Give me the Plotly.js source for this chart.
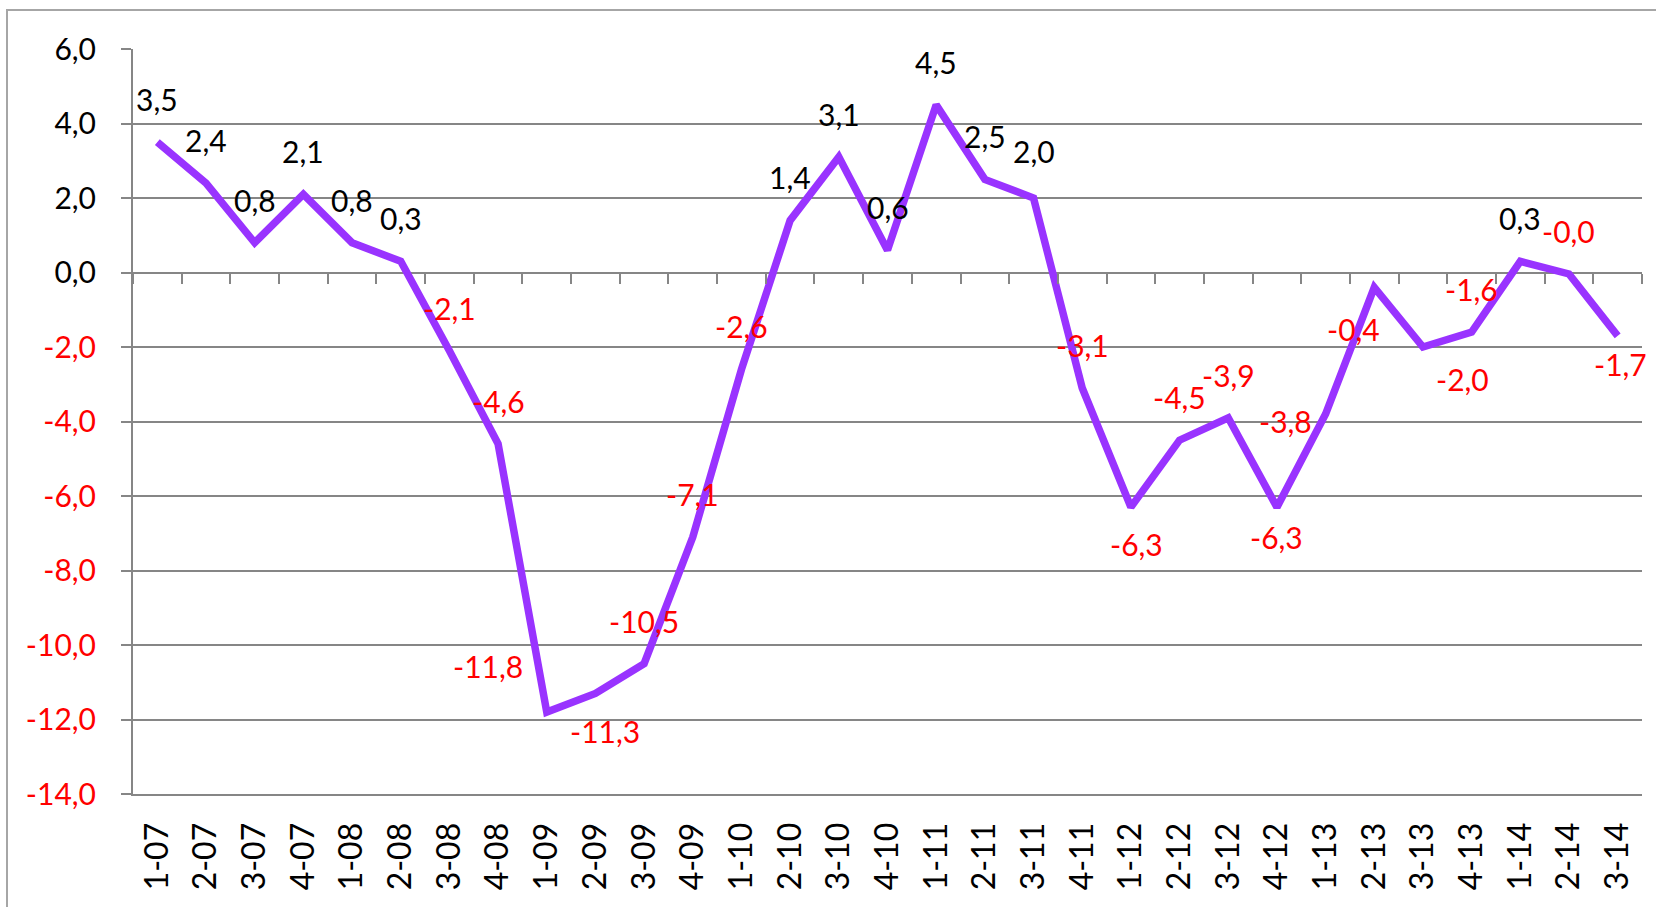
<!DOCTYPE html>
<html>
<head>
<meta charset="utf-8">
<script src="https://cdn.plot.ly/plotly-3.0.1.min.js"></script>
<style>
html,body{margin:0;padding:0;background:#fff;}
#chart{width:1656px;height:907px;}
</style>
</head>
<body>
<div id="chart"></div>
<script>
// ---- data ----
const quarters = ["1-07","2-07","3-07","4-07","1-08","2-08","3-08","4-08","1-09","2-09","3-09","4-09",
  "1-10","2-10","3-10","4-10","1-11","2-11","3-11","4-11","1-12","2-12","3-12","4-12",
  "1-13","2-13","3-13","4-13","1-14","2-14","3-14"];
const values = [3.5,2.4,0.8,2.1,0.8,0.3,-2.1,-4.6,-11.8,-11.3,-10.5,-7.1,
  -2.6,1.4,3.1,0.6,4.5,2.5,2.0,-3.1,-6.3,-4.5,-3.9,-6.3,
  -3.8,-0.4,-2.0,-1.6,0.3,-0.04,-1.7];
const yTickVals = [6,4,2,0,-2,-4,-6,-8,-10,-12,-14];

// ---- label placement (pixel shifts, style only) ----
const defaultShift = [0, 43];
const labelShift = {8:[-59,46], 9:[10,-38], 18:[0,47], 20:[6,-37], 23:[0,-30], 24:[-40,-7], 25:[-21,-42], 26:[40,-32], 30:[3,-28]};

const fmt = v => v.toFixed(1).replace('.', ',');
const RED = '#FF0000', BLACK = '#000000', GRID = '#868686';
const FONT = 'Lato, "Open Sans", sans-serif';

const annotations = values.map((v, i) => {
  const s = labelShift[i] || defaultShift;
  return {
    x: quarters[i], y: v, xref: 'x', yref: 'y',
    text: fmt(v), showarrow: false,
    xshift: s[0], yshift: s[1],
    font: {family: FONT, size: 30, color: v < 0 ? RED : BLACK}
  };
});

const yTickText = yTickVals.map(v => v < 0
  ? '<span style="fill:' + RED + '">' + fmt(v) + '</span>'
  : fmt(v));

const traces = [
  {x: quarters, y: values, type: 'scatter', mode: 'lines',
   line: {color: '#9933FF', width: 7.5}, hoverinfo: 'skip', cliponaxis: false},
  {x: quarters, y: values, type: 'scatter', mode: 'lines', xaxis: 'x2', yaxis: 'y',
   line: {color: 'rgba(0,0,0,0)', width: 0}, hoverinfo: 'skip', showlegend: false}
];

const layout = {
  width: 1656, height: 907,
  margin: {l: 133, r: 14, t: 49, b: 113, pad: 0},
  paper_bgcolor: '#fff', plot_bgcolor: '#fff',
  showlegend: false,
  font: {family: FONT, size: 30, color: BLACK},
  xaxis: {
    type: 'category', categoryorder: 'array', categoryarray: quarters,
    range: [-0.5, quarters.length - 0.5],
    showgrid: false, zeroline: false,
    showline: true, linecolor: GRID, linewidth: 2,
    ticks: '', tickangle: -90, ticklabelstandoff: 14,
    tickfont: {family: FONT, size: 32, color: BLACK}
  },
  xaxis2: {
    type: 'category', categoryorder: 'array', categoryarray: quarters,
    range: [-0.5, quarters.length - 0.5],
    overlaying: 'x', anchor: 'free', position: 0.7, side: 'bottom',
    showgrid: false, zeroline: false, showline: false, showticklabels: false,
    ticks: 'outside', tickson: 'boundaries', ticklen: 10, tickwidth: 2, tickcolor: GRID
  },
  yaxis: {
    range: [-14, 6], tickvals: yTickVals, ticktext: yTickText,
    showgrid: true, gridcolor: GRID, gridwidth: 2,
    zeroline: true, zerolinecolor: GRID, zerolinewidth: 2,
    showline: true, linecolor: GRID, linewidth: 2,
    ticks: 'outside', ticklen: 10, tickwidth: 2, tickcolor: GRID,
    ticklabelstandoff: 19,
    tickfont: {family: FONT, size: 30, color: BLACK}
  },
  annotations: annotations,
  shapes: [{
    type: 'rect', xref: 'paper', yref: 'paper',
    x0: -0.0835, x1: 1.2, y0: -0.3, y1: 1.0523,
    line: {color: '#A6A6A6', width: 2}, fillcolor: 'rgba(0,0,0,0)', layer: 'below'
  }]
};

Plotly.newPlot('chart', traces, layout, {staticPlot: true});
</script>
</body>
</html>
